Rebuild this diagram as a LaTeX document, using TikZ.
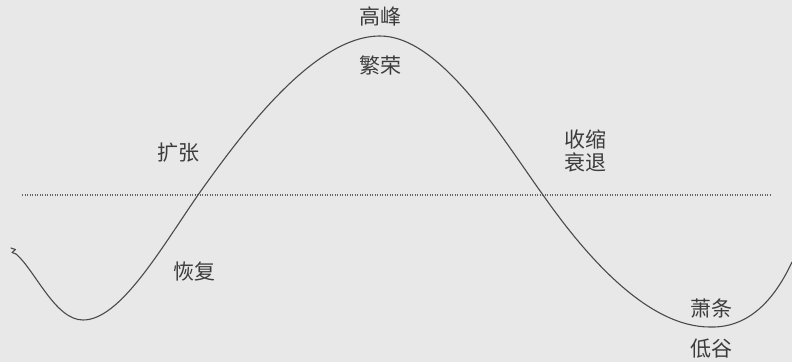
\documentclass[tikz,border=0pt]{standalone}
\usepackage{fontspec}
\newfontfamily\cjk{Noto Sans CJK SC}
\definecolor{bg}{HTML}{E8E8E8}
\definecolor{ink}{HTML}{3C3C3C}
\definecolor{curve}{HTML}{4A4A4A}
\begin{document}
\begin{tikzpicture}[x=1pt,y=-1pt,
  lbl/.style={font=\cjk\fontsize{21}{24}\selectfont, text=ink, inner sep=0pt},
  lbltwo/.style={lbl, align=center, font=\cjk\fontsize{21}{23}\selectfont}]
\fill[bg] (0,0) rectangle (792,362);
\useasboundingbox (0,0) rectangle (792,362);
% dotted base line
\coordinate (dl) at (22,195);
\coordinate (dr) at (770,195);
\draw[curve!85, line width=1.1pt, dash pattern=on 1.2pt off 1.3pt] (dl) -- (dr);
% the cycle curve
\coordinate (s0) at (11,248);
\coordinate (s1) at (16,254);
\coordinate (m1) at (83,320);
\coordinate (c1) at (198,195);
\coordinate (pk) at (380,36);
\coordinate (c2) at (543,195);
\coordinate (m2) at (710,327);
\coordinate (e) at (792,262);
\draw[curve, line width=1.1pt, line cap=round, line join=round]
  (s0) -- (15.5,249.5) -- (12,252.5) -- (s1)
  .. controls (35,270) and (55,320) .. (m1)
  .. controls (120,320) and (160,250) .. (c1)
  .. controls (242,133) and (314,36) .. (pk)
  .. controls (440,36) and (500,135) .. (c2)
  .. controls (590,262) and (650,327) .. (m2)
  .. controls (745,328) and (772,305) .. (e);
% labels
\node[lbl] (gaofeng) at (380,16) {高峰};
\node[lbl] (fanrong) at (380,65) {繁荣};
\node[lbl] (kuozhang) at (178,153) {扩张};
\node[lbl] (huifu) at (194,272) {恢复};
\node[lbltwo] (shousuo) at (585,151) {收缩\\衰退};
\node[lbl] (xiaotiao) at (711,308) {萧条};
\node[lbl] (digu) at (711,349) {低谷};
\end{tikzpicture}
\end{document}
